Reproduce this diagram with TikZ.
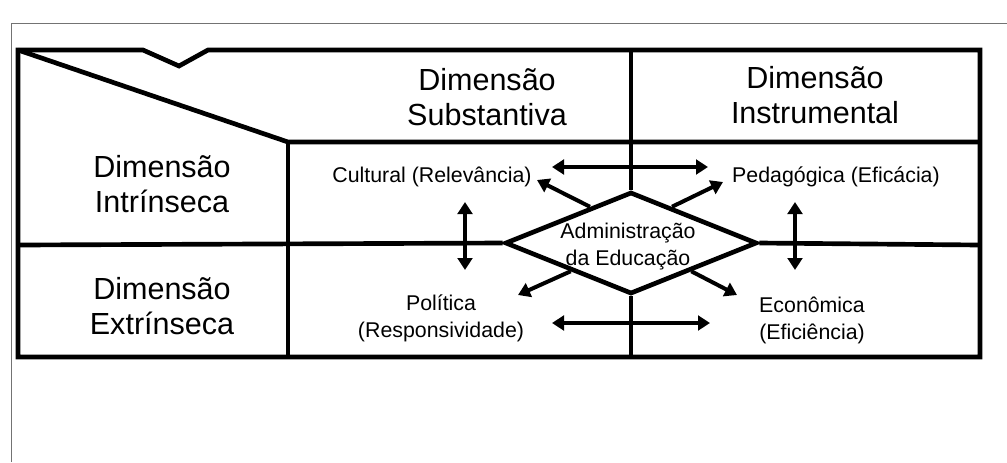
\documentclass[tikz,border=0pt]{standalone}
\usepackage{fontspec}
\setmainfont{Liberation Sans}
\usetikzlibrary{shapes.geometric,arrows.meta,calc}

\tikzset{
  grid/.style={line width=3.5pt},
  bigtext/.style={font=\fontsize{22.9pt}{26pt}\selectfont, inner sep=0pt, text height=17pt, text depth=5pt},
  smalltext/.style={font=\fontsize{16pt}{20.25pt}\selectfont, inner sep=0pt, text height=12pt, text depth=4pt},
  link/.style={line width=3pt, {Triangle[length=9pt,width=11pt]}-{Triangle[length=9pt,width=11pt]}},
  spoke/.style={line width=3pt, -{Triangle[length=9pt,width=11pt]}}
}

\begin{document}
\begin{tikzpicture}[x=0.75pt,y=-0.75pt]
  \useasboundingbox (0,0) rectangle (1007,462);

  %% frame
  \draw[black!55, line width=0.75pt] (1007,23) -- (11,23) -- (11,462);

  %% table
  \coordinate (TL) at (18,50);
  \coordinate (TR) at (980,50);
  \coordinate (BR) at (980,357);
  \coordinate (BL) at (18,357);
  \coordinate (Corner) at (288,142);
  \draw[grid] (TL) -- (143,50) -- (179,66) -- (208,50) -- (TR) -- (BR) -- (BL) -- cycle;
  \draw[grid] (TL) -- (Corner) -- (980,142);
  \draw[grid] (Corner) -- (288,357);

  \node (Adm) at (631,243) [shape=diamond, draw, grid, fill=white, inner sep=0pt,
    minimum width=189pt, minimum height=76.5pt] {};
  \node (AdmText) at (628,247) [align=center, inner sep=0pt,
    font=\fontsize{16pt}{20.25pt}\selectfont] {Administração\\da Educação};

  \draw[grid] (18,245) -- (Adm.west);
  \draw[grid] (Adm.east) -- (980,245);
  \draw[grid] (631,50) -- (Adm.north);
  \draw[grid] (Adm.south) -- (631,357);

  \node (Sub) at (487,82) [bigtext] {Dimensão};
  \node (Subb) [node distance=26.25pt, below of=Sub, bigtext] {Substantiva};
  \node (Ins) at (815,80) [bigtext] {Dimensão};
  \node (Insb) [node distance=26.25pt, below of=Ins, bigtext] {Instrumental};
  \node (Int) at (162,169) [bigtext] {Dimensão};
  \node (Intb) [node distance=26.25pt, below of=Int, bigtext] {Intrínseca};
  \node (Ext) at (162,291) [bigtext] {Dimensão};
  \node (Extb) [node distance=26.25pt, below of=Ext, bigtext] {Extrínseca};

  \node (Cul) at (432,177) [smalltext] {Cultural (Relevância)};
  \node (Ped) at (836,177) [smalltext] {Pedagógica (Eficácia)};
  \node (Pol) at (441,305) [smalltext] {Política};
  \node (Polb) [node distance=20.25pt, below of=Pol, smalltext] {(Responsividade)};
  \node (Eco) at (812,307) [smalltext] {Econômica};
  \node (Ecob) [node distance=20.25pt, below of=Eco, smalltext] {(Eficiência)};

  %% arrows
  \coordinate (CulE) at (552,167);
  \coordinate (PedW) at (708,167);
  \coordinate (PolE) at (552,323);
  \coordinate (EcoW) at (710,323);
  \coordinate (CulS) at (465,202);
  \coordinate (PolN) at (465,270);
  \coordinate (PedS) at (795,202);
  \coordinate (EcoN) at (795,270);
  \draw[link] (CulE) -- (PedW);
  \draw[link] (PolE) -- (EcoW);
  \draw[link] (CulS) -- (PolN);
  \draw[link] (PedS) -- (EcoN);

  \coordinate (CulTip) at (537,180);
  \coordinate (PedTip) at (723,182);
  \coordinate (PolTip) at (518,295);
  \coordinate (EcoTip) at (737,295);
  \draw[spoke] ($(Adm.west)!0.68!(Adm.north)$) -- (CulTip);
  \draw[spoke] ($(Adm.east)!0.68!(Adm.north)$) -- (PedTip);
  \draw[spoke] ($(Adm.west)!0.53!(Adm.south)$) -- (PolTip);
  \draw[spoke] ($(Adm.east)!0.53!(Adm.south)$) -- (EcoTip);
\end{tikzpicture}
\end{document}
